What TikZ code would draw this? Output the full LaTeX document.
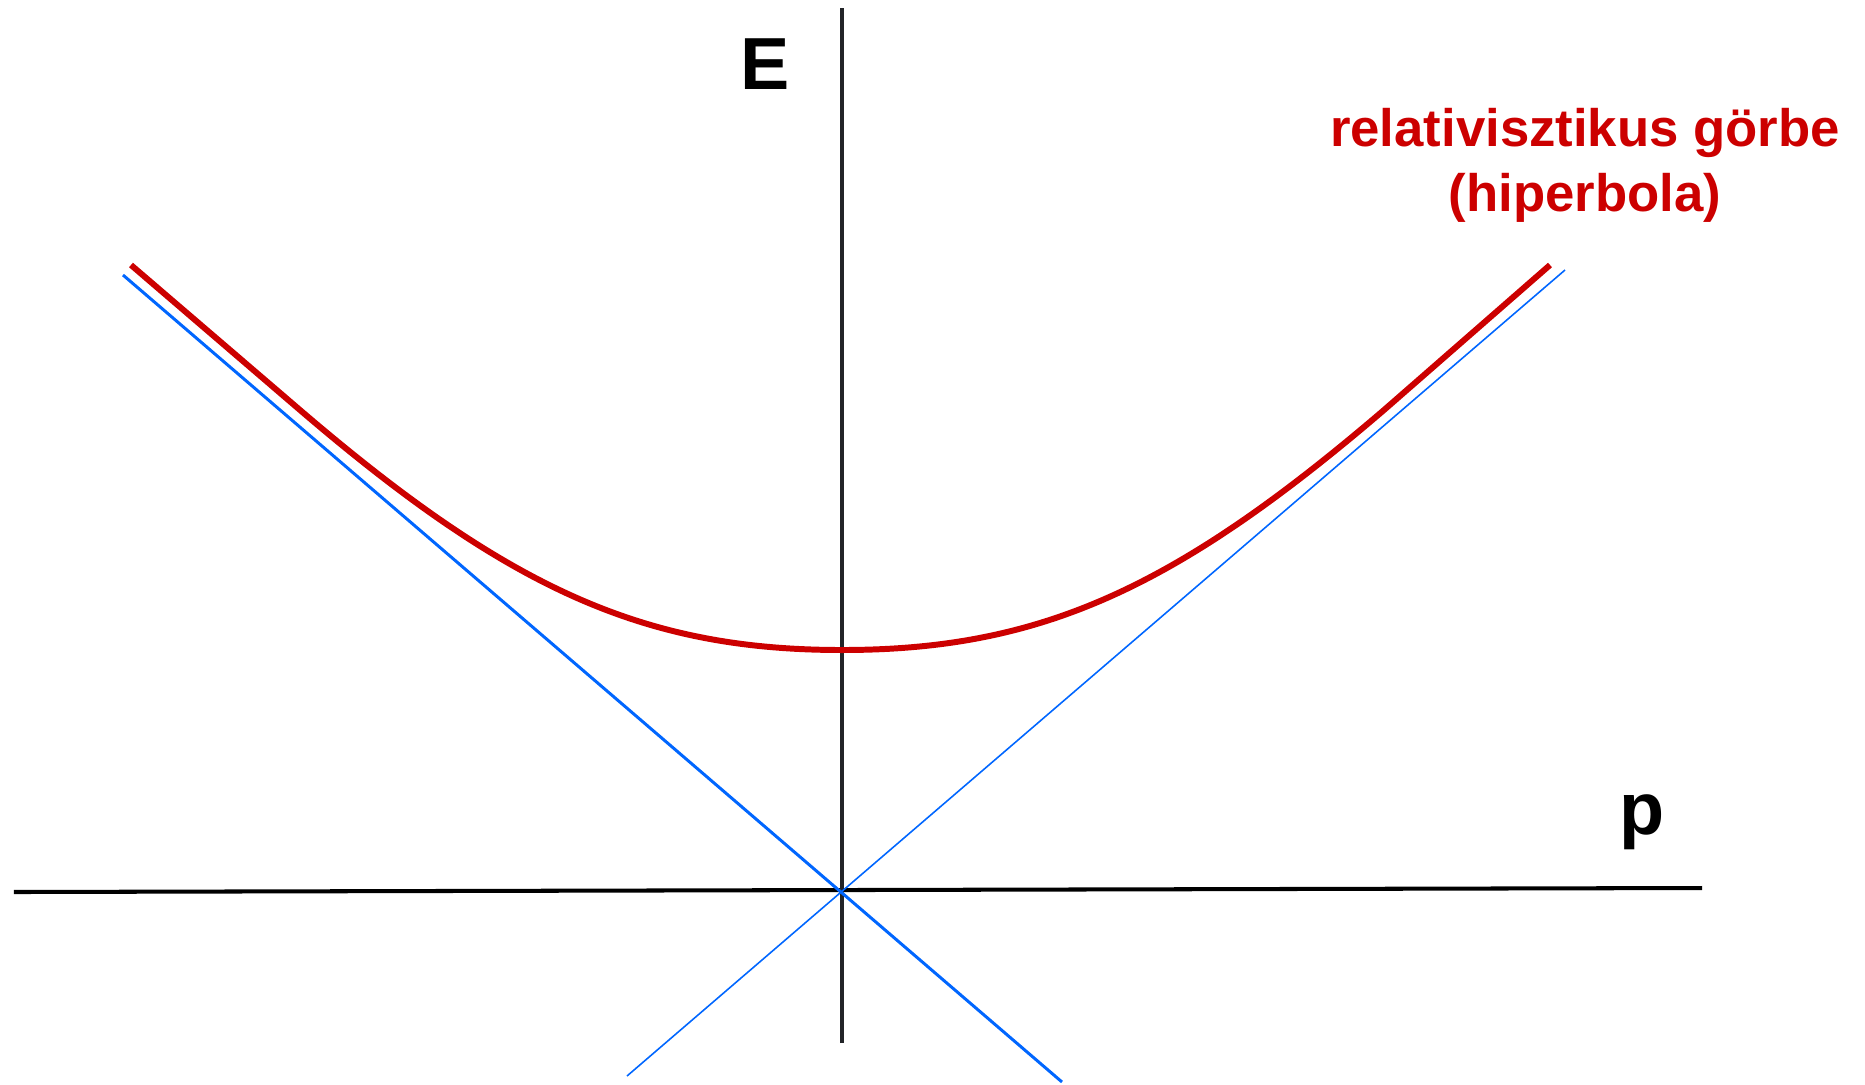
\documentclass[tikz,border=0pt]{standalone}
\usepackage{fontspec}
\setmainfont{Liberation Sans}
\definecolor{CurveRed}{HTML}{CC0000}
\definecolor{AsymBlue}{HTML}{0066FF}
\definecolor{AxisGray}{HTML}{222428}

\begin{document}
\begin{tikzpicture}[
    axis/.style={line width=1.15pt},
    asym/.style={AsymBlue},
    curve/.style={CurveRed, line width=1.7pt},
    lbl/.style={font=\fontsize{21}{25}\selectfont\bfseries, inner sep=0pt}]
  \useasboundingbox (-8.42,-1.93) rectangle (10.23,8.91);
  % Axes
  \coordinate (O) at (0,0);
  \coordinate (pL) at (-8.28,-0.01);
  \coordinate (pR) at (8.60,0.03);
  \coordinate (eB) at (0,-1.52);
  \coordinate (eT) at (0,8.83);
  \draw[axis] (pL) -- (pR);
  \draw[axis, AxisGray] (eB) -- (eT);
  \node[lbl, anchor=base] (E) at (-0.77,8.02) {E};
  \node[lbl, anchor=base] (p) at (8.00,0.57) {p};
  % Asymptotes
  \coordinate (a1) at (-7.19,6.16);
  \coordinate (a2) at (2.20,-1.91);
  \coordinate (b1) at (-2.15,-1.85);
  \coordinate (b2) at (7.23,6.21);
  \draw[asym, line width=0.85pt] (a1) -- (a2);
  \draw[asym, line width=0.45pt] (b1) -- (b2);
  % Hyperbola
  \coordinate (hL) at (-7.11,6.26);
  \coordinate (kL) at (-5.42,4.81);
  \coordinate (V)  at (0,2.41);
  \coordinate (kR) at (5.42,4.81);
  \coordinate (hR) at (7.08,6.26);
  \draw[curve] (hL) -- (kL)
    .. controls (-3.32,3.01) and (-1.97,2.41) .. (V)
    .. controls (1.97,2.41) and (3.32,3.01) .. (kR) -- (hR);
  \node[CurveRed, align=center, anchor=base, inner sep=0pt,
        font=\fontsize{15}{18.4}\selectfont\bfseries]
    (hyp) at (7.43,6.80) {relativisztikus görbe\\(hiperbola)};
\end{tikzpicture}
\end{document}
